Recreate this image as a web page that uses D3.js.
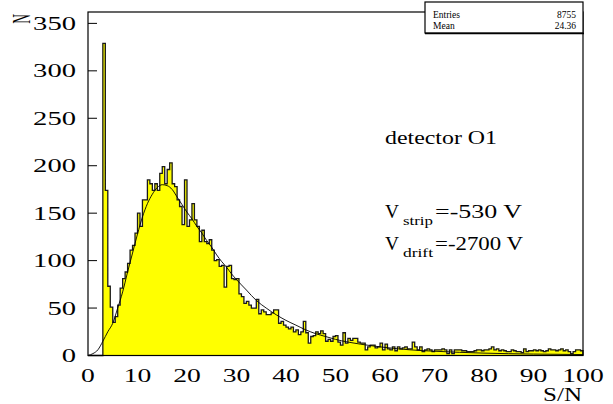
<!DOCTYPE html>
<html>
<head>
<meta charset="utf-8">
<script src="https://cdn.jsdelivr.net/npm/d3@7/dist/d3.min.js"></script>
<style>
  html, body { margin: 0; padding: 0; background: #fff; }
  svg { display: block; }
  text { font-family: "Liberation Serif", "DejaVu Serif", serif; fill: #000; }
</style>
</head>
<body>
<svg id="chart" width="613" height="404"></svg>
<script>
// S/N histogram: 200 bins of width 0.5 from 0 to 100
const binWidth = 0.5;
const counts = [
  0, 0, 0, 0, 0, 0, 329, 174, 73, 51,
  35, 41, 53, 71, 81, 88, 97, 111, 116, 129,
  150, 136, 164, 164, 185, 181, 174, 181, 174, 192,
  199, 181, 196, 203, 181, 178, 164, 157, 138, 185,
  136, 143, 160, 143, 136, 120, 132, 120, 118, 122,
  111, 100, 101, 94, 95, 72, 94, 95, 81, 80,
  81, 65, 62, 55, 57, 53, 50, 50, 59, 44,
  48, 46, 43, 43, 45, 48, 48, 34, 36, 32,
  30, 28, 30, 25, 27, 22, 25, 36, 24, 13,
  20, 21, 25, 23, 26, 23, 15, 17, 15, 20,
  21, 14, 11, 24, 13, 18, 16, 18, 18, 14,
  13, 13, 6, 9, 11, 11, 8, 9, 13, 6,
  12, 7, 6, 9, 5, 9, 7, 8, 9, 7,
  7, 14, 9, 6, 9, 4, 6, 7, 6, 4,
  6, 6, 6, 7, 6, 2, 6, 2, 6, 6,
  6, 5, 5, 4, 4, 4, 5, 6, 6, 5,
  6, 6, 7, 9, 6, 7, 5, 6, 5, 4,
  4, 6, 5, 4, 4, 3, 7, 4, 5, 5,
  6, 5, 6, 5, 4, 5, 7, 6, 6, 5,
  6, 7, 5, 6, 4, 2, 4, 6, 6, 5
];

// fitted curve, sampled as (S/N, N) pairs
const fitX = [0, 1, 2, 3, 4, 5, 6, 7, 8, 9, 10, 11, 12, 13, 14, 15, 16, 17, 18, 19,
  20, 21, 22, 23, 24, 25, 26, 27, 28, 29, 30, 32, 34, 36, 38, 40, 42, 44, 46, 48,
  50, 55, 60, 65, 70, 80, 90, 100];
const fitY = [0, 2, 6, 15, 25, 34, 50, 67, 88, 108, 128, 146, 160, 170, 177, 180, 179, 175, 167, 159,
  151, 144, 136, 129, 121, 114, 106, 99, 93, 86, 80, 69, 58, 50, 43, 37, 32, 27, 23, 20,
  17, 12, 8.5, 6, 4.5, 2.5, 1.5, 1];

const xTicks = [0, 10, 20, 30, 40, 50, 60, 70, 80, 90, 100];
const yTicks = [0, 50, 100, 150, 200, 250, 300, 350];
const statNames = ["Entries", "Mean"];
const statValues = ["8755", "24.36"];

const svg = d3.select("#chart");
const plotL = 88, plotR = 583, plotT = 12, plotB = 355.5;

const x = d3.scaleLinear().domain([0, 100]).range([plotL, plotR]);
const y = d3.scaleLinear().domain([0, 362]).range([plotB, plotT]);

// text drawn with a forced horizontal extent (wide serif lettering)
function wideText(sel, str, opts) {
  const t = sel.append("text")
    .attr("x", opts.x).attr("y", opts.y)
    .attr("font-size", opts.size)
    .attr("text-anchor", opts.anchor || "start")
    .text(str);
  if (opts.width) {
    t.attr("textLength", opts.width).attr("lengthAdjust", "spacingAndGlyphs");
  }
  return t;
}

// histogram outline points (step shape)
const pts = [];
counts.forEach((c, i) => {
  pts.push([i * binWidth, c]);
  pts.push([(i + 1) * binWidth, c]);
});

const area = d3.area()
  .x(d => x(d[0]))
  .y0(y(0))
  .y1(d => y(d[1]));
const line = d3.line()
  .x(d => x(d[0]))
  .y(d => y(d[1]));

svg.append("path")
  .datum(pts)
  .attr("d", area)
  .attr("fill", "#ffff00")
  .attr("stroke", "none");

svg.append("path")
  .datum([[0, 0]].concat(pts, [[100, 0]]))
  .attr("d", line)
  .attr("fill", "none")
  .attr("stroke", "#1a1a1a")
  .attr("stroke-width", 1.3)
  .attr("stroke-linejoin", "miter");

// fit function
const fitPts = fitX.map((v, i) => [v, fitY[i]]);
svg.append("path")
  .datum(fitPts)
  .attr("d", d3.line().x(d => x(d[0])).y(d => y(d[1])).curve(d3.curveMonotoneX))
  .attr("fill", "none")
  .attr("stroke", "#000")
  .attr("stroke-width", 0.9);

// frame
svg.append("rect")
  .attr("x", plotL).attr("y", plotT)
  .attr("width", plotR - plotL).attr("height", plotB - plotT)
  .attr("fill", "none").attr("stroke", "#000").attr("stroke-width", 1.2);

// y axis ticks and labels
const yAxis = svg.append("g");
yTicks.forEach(v => {
  yAxis.append("line")
    .attr("x1", plotL).attr("x2", plotL + 9)
    .attr("y1", y(v)).attr("y2", y(v))
    .attr("stroke", "#000").attr("stroke-width", 1);
  const s = String(v);
  wideText(yAxis, s, { x: 76, y: y(v) + 6.5, size: 19.5, anchor: "end", width: s.length * 14.3 });
});

// x axis labels
const xAxis = svg.append("g");
xTicks.forEach(v => {
  const s = String(v);
  wideText(xAxis, s, { x: x(v), y: 382, size: 19.5, anchor: "middle", width: s.length * 13.8 });
});

// axis titles
wideText(svg, "S/N", { x: 582, y: 401, size: 19.5, anchor: "end", width: 39 });
svg.append("text")
  .attr("transform", "translate(30,19) rotate(-90) scale(0.75,1.35)")
  .attr("font-size", 18)
  .attr("text-anchor", "middle")
  .text("N");

// statistics box
const box = svg.append("g");
box.append("rect")
  .attr("x", 425).attr("y", 2).attr("width", 158).attr("height", 31)
  .attr("fill", "#fff").attr("stroke", "#000").attr("stroke-width", 1.2);
box.append("line")
  .attr("x1", 425).attr("x2", 584).attr("y1", 33.5).attr("y2", 33.5)
  .attr("stroke", "#000").attr("stroke-width", 1.5);
statNames.forEach((n, i) => {
  wideText(box, n, { x: 433, y: 18 + i * 11, size: 9.5 });
  wideText(box, statValues[i], { x: 576, y: 18 + i * 11, size: 9.5, anchor: "end" });
});

// annotations
wideText(svg, "detector O1", { x: 385, y: 144, size: 18, width: 112 });

const ann = svg.append("g");
wideText(ann, "V", { x: 385, y: 218, size: 19.5, width: 14 });
wideText(ann, "strip", { x: 403, y: 225, size: 13, width: 30 });
wideText(ann, "=-530 V", { x: 435, y: 218, size: 19.5, width: 87 });
wideText(ann, "V", { x: 385, y: 250, size: 19.5, width: 14 });
wideText(ann, "drift", { x: 403, y: 257, size: 13, width: 30 });
wideText(ann, "=-2700 V", { x: 435, y: 250, size: 19.5, width: 88 });
</script>
</body>
</html>
